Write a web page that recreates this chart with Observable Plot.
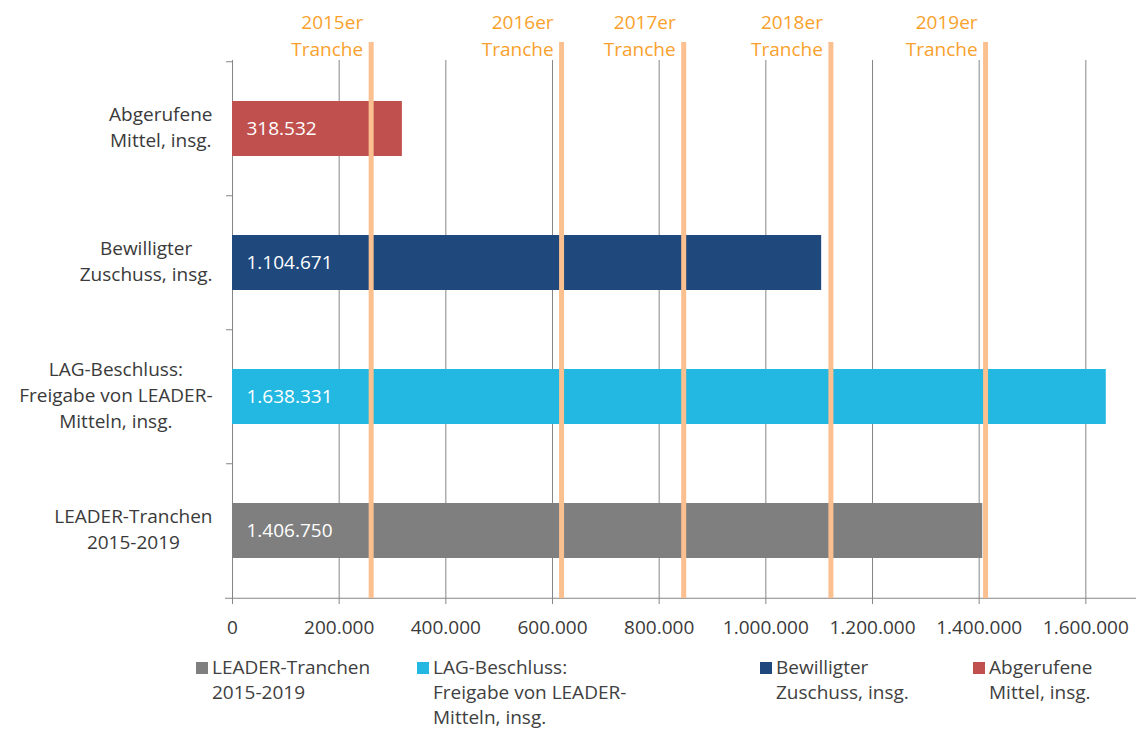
<!DOCTYPE html>
<html><head><meta charset="utf-8">
<script src="https://cdn.jsdelivr.net/npm/d3@7"></script>
<script src="https://cdn.jsdelivr.net/npm/@observablehq/plot@0.6"></script>
<style>
body{margin:0;background:#fff;font-family:"Open Sans",sans-serif;}
#wrap{position:relative;width:1136px;height:733px;overflow:hidden;}
.legend{position:relative;height:88px;}
.item{position:absolute;top:10px;display:flex;align-items:flex-start;font-size:19px;line-height:25px;color:#404040;white-space:pre;}
.sw{width:12px;height:12px;margin-top:7px;margin-right:4px;flex:none;}
</style></head><body><div id="wrap"></div>
<script>
// ---- data ----
const categories = ["Abgerufene\nMittel, insg.", "Bewilligter\nZuschuss, insg.", "LAG-Beschluss:\nFreigabe von LEADER-\nMitteln, insg.", "LEADER-Tranchen\n2015-2019"];
const values = [318532, 1104671, 1638331, 1406750];
const colors = ["#C0504D", "#1F497D", "#23B8E1", "#7F7F7F"];
const trancheLabels = ["2015er\nTranche", "2016er\nTranche", "2017er\nTranche", "2018er\nTranche", "2019er\nTranche"];
const trancheValues = [260000, 617000, 846000, 1122000, 1412000];
const xTicks = [0, 200000, 400000, 600000, 800000, 1000000, 1200000, 1400000, 1600000];
const legendOrder = [3, 2, 1, 0];

// ---- layout ----
const W = 1136, H = 645, ML = 232, MR = 0, MT = 60, MB = 47;
const xMax = 1695000;
const unitsPerPx = xMax / (W - ML - MR);
const step = (H - MT - MB) / categories.length;

const fmt = d3.formatLocale({decimal: ",", thousands: ".", grouping: [3], currency: ["", "€"]}).format(",d");
const data = categories.map((c, i) => ({cat: c, value: values[i], color: colors[i]}));
const tranches = trancheLabels.map((t, i) => ({label: t, value: trancheValues[i]}));

const ctx = document.createElement("canvas").getContext("2d");
ctx.font = "19px 'Open Sans'";
const maxW = s => Math.max(...s.split("\n").map(l => ctx.measureText(l).width));

const grey = "#868686";
const txt = "#3a3a3a";

const plot = Plot.plot({
  width: W, height: H, marginLeft: ML, marginRight: MR, marginTop: MT, marginBottom: MB,
  style: {fontFamily: "'Open Sans', sans-serif", fontSize: "19px", background: "#fff", overflow: "visible"},
  x: {domain: [0, xMax], axis: null},
  y: {domain: categories, paddingInner: 0.59, paddingOuter: 0.295, axis: null},
  color: {type: "identity"},
  marks: [
    Plot.gridX(xTicks, {stroke: grey, strokeOpacity: 1}),
    Plot.axisX(xTicks, {tickFormat: d => fmt(d), tickSize: 6, tickPadding: 16, stroke: grey, fill: txt, label: null}),
    // bottom axis line
    Plot.ruleY([categories[categories.length - 1]], {y: d => d, x1: -7 * unitsPerPx, x2: xMax, dy: step / 2, stroke: grey}),
    // category boundary ticks on y axis
    Plot.ruleY(categories, {y: d => d, x1: -6 * unitsPerPx, x2: 0, dy: -step / 2, stroke: grey}),
    Plot.barX(data, {y: "cat", x: "value", fill: "color"}),
    Plot.text(data, {y: "cat", x: d => 0, text: d => fmt(d.value), textAnchor: "start", dx: 14, fill: "white", fontSize: 19}),
    Plot.ruleX(tranches, {x: "value", stroke: "#fac090", strokeWidth: 5, insetTop: -18}),
    Plot.text(tranches, {x: "value", text: "label", frameAnchor: "top", dy: -27, dx: -8, textAnchor: "end", lineAnchor: "middle", lineHeight: 1.42, fill: "#f9a12c", fontSize: 19}),
    ...categories.map(c => Plot.text([c], {y: d => d, text: d => d, frameAnchor: "left", dx: -(20 + maxW(c) / 2), dy: -3, textAnchor: "middle", lineAnchor: "middle", lineHeight: 26 / 19, fill: txt, fontSize: 19}))
  ]
});

const wrap = document.getElementById("wrap");
wrap.appendChild(plot);

// ---- legend ----
const legendLeft = [196, 417, 760, 973];
const legend = document.createElement("div");
legend.className = "legend";
legendOrder.forEach((idx, j) => {
  const it = document.createElement("div");
  it.className = "item";
  it.style.left = legendLeft[j] + "px";
  const sw = document.createElement("div");
  sw.className = "sw";
  sw.style.background = colors[idx];
  const t = document.createElement("div");
  t.textContent = categories[idx];
  it.appendChild(sw); it.appendChild(t);
  legend.appendChild(it);
});
wrap.appendChild(legend);
</script>
</body></html>
